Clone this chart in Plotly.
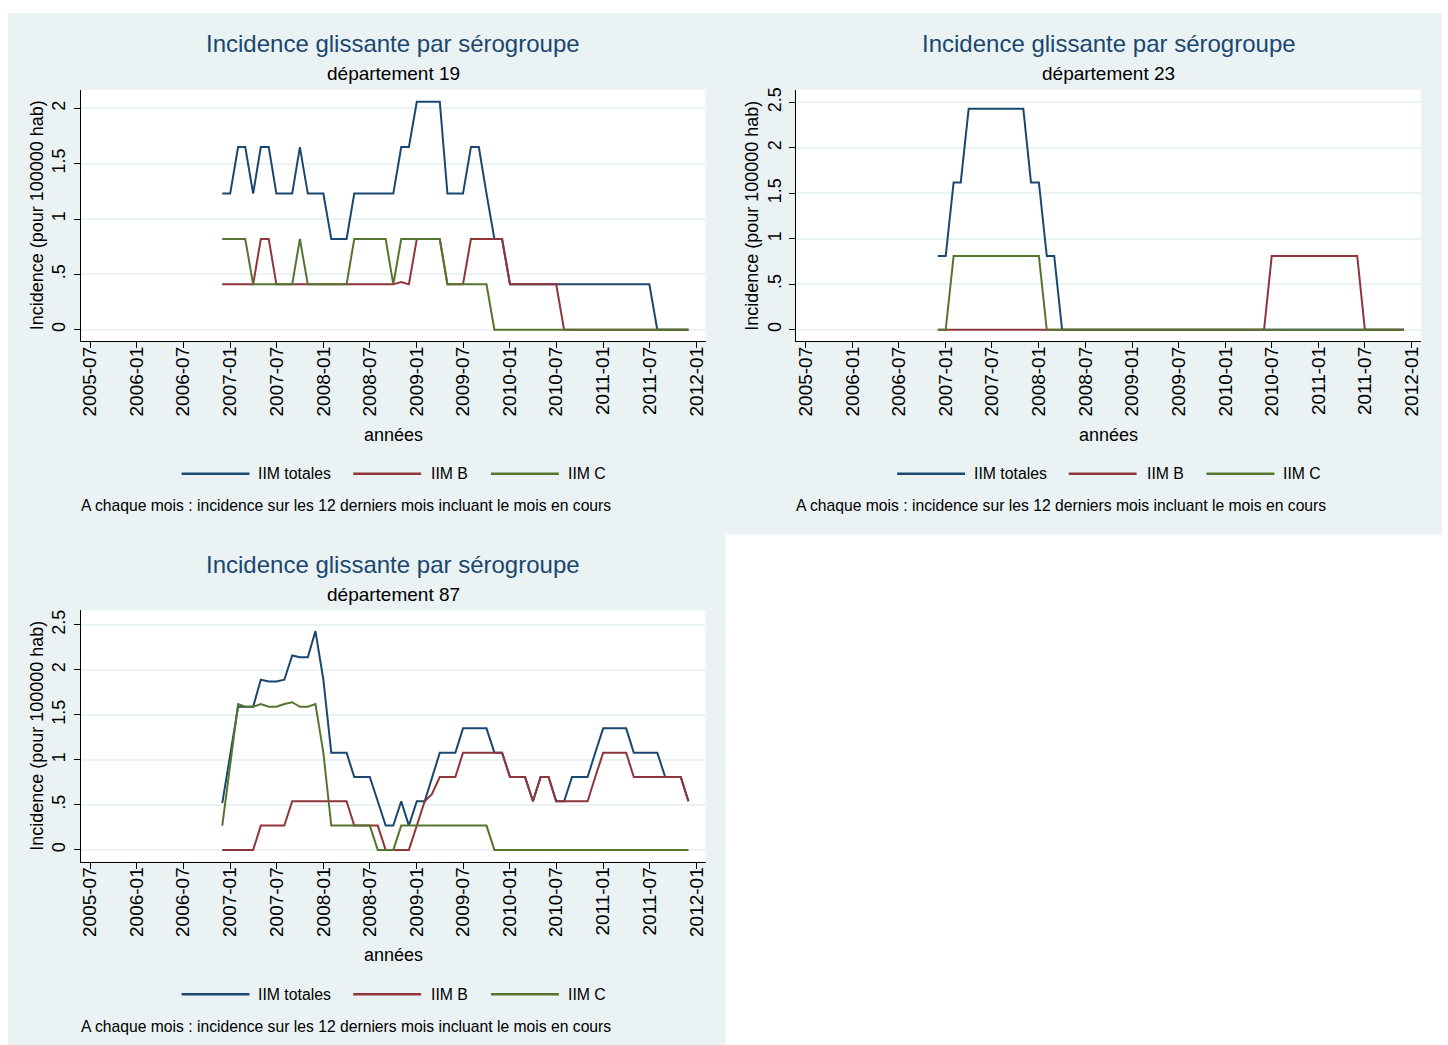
import pandas as pd
import plotly.graph_objects as go

W, H = 1448, 1045

# ---- data (monthly, 2006-12 .. 2011-12) ----
months = pd.date_range("2006-12-01", periods=61, freq="MS")

d19_tot = [1.23, 1.23, 1.65, 1.65, 1.23, 1.65, 1.65, 1.23, 1.23, 1.23, 1.65, 1.23, 1.23, 1.23,
           0.82, 0.82, 0.82, 1.23, 1.23, 1.23, 1.23, 1.23, 1.23, 1.65, 1.65, 2.06, 2.06, 2.06,
           2.06, 1.23, 1.23, 1.23, 1.65, 1.65, 1.23, 0.82, 0.82, 0.41, 0.41, 0.41, 0.41, 0.41,
           0.41, 0.41, 0.41, 0.41, 0.41, 0.41, 0.41, 0.41, 0.41, 0.41, 0.41, 0.41, 0.41, 0.41,
           0, 0, 0, 0, 0]
d19_b = [0.41, 0.41, 0.41, 0.41, 0.41, 0.82, 0.82, 0.41, 0.41, 0.41, 0.41, 0.41, 0.41, 0.41,
         0.41, 0.41, 0.41, 0.41, 0.41, 0.41, 0.41, 0.41, 0.41, 0.43, 0.41, 0.82, 0.82, 0.82,
         0.82, 0.41, 0.41, 0.41, 0.82, 0.82, 0.82, 0.82, 0.82, 0.41, 0.41, 0.41, 0.41, 0.41,
         0.41, 0.41, 0, 0, 0, 0, 0, 0, 0, 0, 0, 0, 0, 0, 0, 0, 0, 0, 0]
d19_c = [0.82, 0.82, 0.82, 0.82, 0.41, 0.41, 0.41, 0.41, 0.41, 0.41, 0.82, 0.41, 0.41, 0.41,
         0.41, 0.41, 0.41, 0.82, 0.82, 0.82, 0.82, 0.82, 0.41, 0.82, 0.82, 0.82, 0.82, 0.82,
         0.82, 0.41, 0.41, 0.41, 0.41, 0.41, 0.41, 0, 0, 0, 0, 0, 0, 0, 0, 0, 0, 0, 0, 0, 0,
         0, 0, 0, 0, 0, 0, 0, 0, 0, 0, 0, 0]

d23_tot = [0.81, 0.81, 1.62, 1.62, 2.43, 2.43, 2.43, 2.43, 2.43, 2.43, 2.43, 2.43, 1.62, 1.62,
           0.81, 0.81] + [0] * 45
d23_b = [0] * 43 + [0.81] * 12 + [0] * 6
d23_c = [0, 0] + [0.81] * 12 + [0] * 47

d87_tot = [0.52, 1.05, 1.59, 1.59, 1.59, 1.89, 1.87, 1.87, 1.89, 2.16, 2.14, 2.14, 2.43, 1.89,
           1.08, 1.08, 1.08, 0.81, 0.81, 0.81, 0.54, 0.27, 0.27, 0.54, 0.27, 0.54, 0.54, 0.81,
           1.08, 1.08, 1.08, 1.35, 1.35, 1.35, 1.35, 1.08, 1.08, 0.81, 0.81, 0.81, 0.54, 0.81,
           0.81, 0.54, 0.54, 0.81, 0.81, 0.81, 1.08, 1.35, 1.35, 1.35, 1.35, 1.08, 1.08, 1.08,
           1.08, 0.81, 0.81, 0.81, 0.54]
d87_b = [0, 0, 0, 0, 0, 0.27, 0.27, 0.27, 0.27, 0.54, 0.54, 0.54, 0.54, 0.54, 0.54, 0.54, 0.54,
         0.27, 0.27, 0.27, 0.27, 0, 0, 0, 0, 0.27, 0.54, 0.62, 0.81, 0.81, 0.81, 1.08, 1.08,
         1.08, 1.08, 1.08, 1.08, 0.81, 0.81, 0.81, 0.54, 0.81, 0.81, 0.54, 0.54, 0.54, 0.54,
         0.54, 0.81, 1.08, 1.08, 1.08, 1.08, 0.81, 0.81, 0.81, 0.81, 0.81, 0.81, 0.81, 0.54]
d87_c = [0.27, 0.95, 1.62, 1.59, 1.59, 1.62, 1.59, 1.59, 1.62, 1.64, 1.59, 1.59, 1.62, 1.08,
         0.27, 0.27, 0.27, 0.27, 0.27, 0.27, 0, 0, 0, 0.27, 0.27, 0.27, 0.27, 0.27, 0.27, 0.27,
         0.27, 0.27, 0.27, 0.27, 0.27] + [0] * 26

x_tickvals = ["2005-07-01", "2006-01-01", "2006-07-01", "2007-01-01", "2007-07-01", "2008-01-01",
              "2008-07-01", "2009-01-01", "2009-07-01", "2010-01-01", "2010-07-01", "2011-01-01",
              "2011-07-01", "2012-01-01"]
x_ticktext = ["2005-07", "2006-01", "2006-07", "2007-01", "2007-07", "2008-01", "2008-07",
              "2009-01", "2009-07", "2010-01", "2010-07", "2011-01", "2011-07", "2012-01"]
y_vals_a = [0, 0.5, 1, 1.5, 2]
y_text_a = ["0", ".5", "1", "1.5", "2"]
y_vals_b = [0, 0.5, 1, 1.5, 2, 2.5]
y_text_b = ["0", ".5", "1", "1.5", "2", "2.5"]

series_names = ["IIM totales", "IIM B", "IIM C"]
colors = ["#1A476F", "#90353B", "#55752F"]

panels = [
    dict(dept="19", data=[d19_tot, d19_b, d19_c], dx=0, dy=0, yr=[-0.102, 2.168],
         yv=y_vals_a, yt=y_text_a),
    dict(dept="23", data=[d23_tot, d23_b, d23_c], dx=717, dy=0, yr=[-0.124, 2.639],
         yv=y_vals_b, yt=y_text_b),
    dict(dept="87", data=[d87_tot, d87_b, d87_c], dx=0, dy=522, yr=[-0.129, 2.662],
         yv=y_vals_b, yt=y_text_b),
]

BG = "#EAF2F3"
FONT = "Liberation Sans, Arial, sans-serif"


def px(x):
    return x / W


def py(y):
    return 1 - y / H


fig = go.Figure()
shapes = [
    dict(type="rect", xref="paper", yref="paper", x0=px(6), x1=px(1443), y0=py(533), y1=py(10),
         fillcolor=BG, line=dict(width=0), layer="below"),
    dict(type="rect", xref="paper", yref="paper", x0=px(6), x1=px(725), y0=py(1045), y1=py(533),
         fillcolor=BG, line=dict(width=0), layer="below"),
]
annotations = []
layout_axes = {}

for k, p in enumerate(panels):
    dx, dy = p["dx"], p["dy"]
    sfx = "" if k == 0 else str(k + 1)
    xl, xr = 79 + dx, 705 + dx
    yt, yb = 87 + dy, 339 + dy
    shapes.append(dict(type="rect", xref="paper", yref="paper", x0=px(xl), x1=px(xr),
                       y0=py(yb), y1=py(yt), fillcolor="white", line=dict(width=0),
                       layer="below"))
    for s in range(3):
        fig.add_trace(go.Scatter(x=months, y=p["data"][s], mode="lines", name=series_names[s],
                                 line=dict(color=colors[s], width=2),
                                 xaxis="x" + sfx, yaxis="y" + sfx, showlegend=False))
    layout_axes["xaxis" + sfx] = dict(
        domain=[px(xl), px(xr)], anchor="y" + sfx, type="date",
        range=["2005-05-26", "2012-02-06"], tickmode="array", tickvals=x_tickvals,
        ticktext=x_ticktext, tickangle=-90, ticks="outside", ticklen=6, tickwidth=1.3,
        tickcolor="black", showline=True, linecolor="black", linewidth=1.3, showgrid=False,
        zeroline=False, tickfont=dict(family=FONT, size=19, color="black"),
        ticklabelstandoff=-9, fixedrange=True)
    layout_axes["yaxis" + sfx] = dict(
        domain=[py(yb), py(yt)], anchor="x" + sfx, range=p["yr"], tickmode="array",
        tickvals=p["yv"], ticktext=p["yt"], tickangle=-90, ticks="outside", ticklen=6,
        tickwidth=1.3, tickcolor="black", showline=True, linecolor="black", linewidth=1.3,
        showgrid=True, gridcolor=BG, gridwidth=1.5, zeroline=False,
        tickfont=dict(family=FONT, size=18, color="black"), ticklabelstandoff=1,
        fixedrange=True)

    cx = (xl + xr) / 2
    annotations += [
        dict(text="Incidence glissante par sérogroupe", x=px(cx), y=py(41 + dy),
             font=dict(family=FONT, size=24, color="#1A476F")),
        dict(text=f"département {p['dept']}", x=px(cx), y=py(71 + dy),
             font=dict(family=FONT, size=19, color="black")),
        dict(text="Incidence (pour 100000 hab)", x=px(35 + dx), y=py((yt + yb) / 2),
             textangle=-90, font=dict(family=FONT, size=18, color="black")),
        dict(text="années", x=px(cx), y=py(433 + dy),
             font=dict(family=FONT, size=18, color="black")),
        dict(text="A chaque mois : incidence sur les 12 derniers mois incluant le mois en cours",
             x=px(77 + dx), y=py(504 + dy), xanchor="left",
             font=dict(family=FONT, size=15.7, color="black")),
    ]
    leg = [(180, 248, 255), (352, 420, 428), (490, 558, 565)]
    for s, (l0, l1, tx) in enumerate(leg):
        shapes.append(dict(type="line", xref="paper", yref="paper", x0=px(l0 + dx),
                           x1=px(l1 + dx), y0=py(472 + dy), y1=py(472 + dy),
                           line=dict(color=colors[s], width=2.5)))
        annotations.append(dict(text=series_names[s], x=px(tx + dx), y=py(472 + dy),
                                xanchor="left", font=dict(family=FONT, size=15.8, color="black")))

for a in annotations:
    a.update(xref="paper", yref="paper", showarrow=False)
    a.setdefault("xanchor", "center")
    a.setdefault("yanchor", "middle")

fig.update_layout(width=W, height=H, margin=dict(l=0, r=0, t=0, b=0),
                  paper_bgcolor="white", plot_bgcolor="white", shapes=shapes,
                  annotations=annotations, showlegend=False, font=dict(family=FONT),
                  **layout_axes)

fig.write_html("out.html", config={"displayModeBar": False},
               post_script="document.body.style.margin='0';"
                           "document.body.style.overflow='hidden';")
